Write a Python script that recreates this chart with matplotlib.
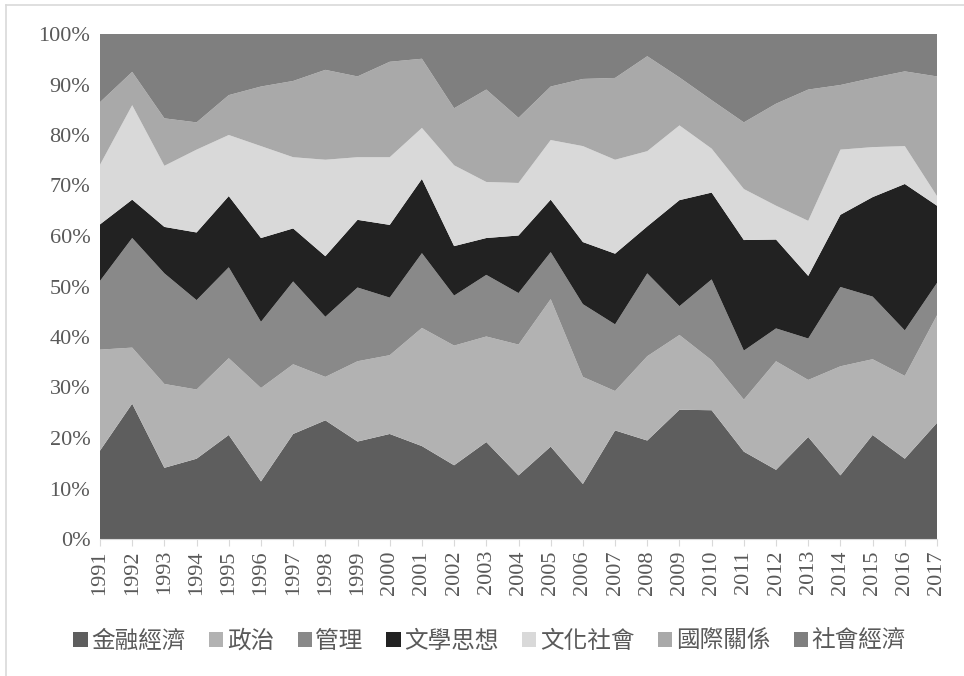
import numpy as np
import matplotlib
matplotlib.use("Agg")
import matplotlib.pyplot as plt
from matplotlib.lines import Line2D

years = list(range(1991, 2018))

# share of each category per year (%)
finance = [17.5, 26.8, 14.1, 15.9, 20.6, 11.4, 20.8, 23.5, 19.3, 20.8, 18.4, 14.6, 19.2, 12.6,
           18.3, 10.9, 21.5, 19.5, 25.6, 25.5, 17.3, 13.7, 20.2, 12.6, 20.6, 15.9, 23.0]
politics = [20.0, 11.1, 16.6, 13.7, 15.2, 18.5, 13.8, 8.6, 15.9, 15.6, 23.4, 23.7, 20.9, 25.9,
            29.2, 21.2, 7.8, 16.7, 14.8, 9.9, 10.3, 21.5, 11.3, 21.6, 15.0, 16.4, 21.3]
management = [13.6, 21.7, 21.9, 17.7, 18.0, 13.1, 16.4, 11.9, 14.6, 11.4, 14.8, 9.9, 12.2, 10.2,
              9.3, 14.4, 13.2, 16.4, 5.7, 16.0, 9.7, 6.5, 8.2, 15.7, 12.4, 9.0, 6.4]
literature = [11.2, 7.6, 9.2, 13.4, 14.1, 16.6, 10.5, 12.0, 13.4, 14.4, 14.7, 9.8, 7.3, 11.4,
              10.4, 12.3, 14.0, 9.3, 21.0, 17.2, 21.9, 17.6, 12.4, 14.3, 19.7, 29.0, 15.3]
culture = [11.8, 18.7, 12.1, 16.4, 12.1, 18.2, 14.1, 19.1, 12.4, 13.4, 10.1, 16.0, 11.1, 10.4,
           11.8, 19.0, 18.6, 14.9, 14.8, 8.7, 10.1, 6.7, 10.9, 12.9, 9.9, 7.5, 1.9]
intl = [12.4, 6.6, 9.4, 5.4, 7.9, 11.8, 15.1, 17.8, 16.0, 18.9, 13.7, 11.3, 18.3, 12.9,
        10.6, 13.3, 16.2, 18.8, 9.5, 9.6, 13.2, 20.2, 26.0, 12.8, 13.7, 14.8, 23.7]
socioecon = [13.5, 7.5, 16.7, 17.5, 12.1, 10.4, 9.3, 7.1, 8.4, 5.5, 4.9, 14.7, 11.0, 16.6,
             10.4, 8.9, 8.7, 4.4, 8.6, 13.1, 17.5, 13.8, 11.0, 10.1, 8.7, 7.4, 8.4]

labels = ['金融經濟', '政治', '管理', '文學思想', '文化社會', '國際關係', '社會經濟']
colors = ['#5e5e5e', '#b2b2b2', '#898989', '#222222', '#d9d9d9', '#a9a9a9', '#7f7f7f']

series = np.array([finance, politics, management, literature, culture, intl, socioecon])
series = series / series.sum(axis=0) * 100

fig = plt.figure(figsize=(9.64, 6.76), dpi=100)
ax = fig.add_axes([100 / 964, 1 - 539 / 676, 837 / 964, 505 / 676])

x = np.arange(len(years))
ax.stackplot(x, series, colors=colors, labels=labels, linewidth=0)

ax.set_xlim(0, len(years) - 1)
ax.set_ylim(0, 100)
ax.set_yticks(range(0, 101, 10))
ax.set_yticklabels([f'{v}%' for v in range(0, 101, 10)],
                   fontfamily='Liberation Serif', fontsize=16, color='#595959')
ax.set_xticks(x)
ax.set_xticklabels([str(y) for y in years], rotation=90,
                   fontfamily='Liberation Serif', fontsize=16, color='#595959')
ax.tick_params(axis='y', length=0, pad=7)
ax.tick_params(axis='x', length=5, color='#d9d9d9', pad=3)
for side in ['top', 'right', 'left']:
    ax.spines[side].set_visible(False)
ax.spines['bottom'].set_color('#d9d9d9')

handles, lbls = ax.get_legend_handles_labels()
leg = fig.legend(handles, lbls, loc='center', bbox_to_anchor=(0.508, 1 - 641 / 676), ncol=7,
                 frameon=False, handlelength=0.6, handleheight=0.6, handletextpad=0.15,
                 columnspacing=1.0, prop={'family': ['Noto Sans CJK TC', 'DejaVu Sans'],
                                          'size': 17, 'weight': 'light'})
for t in leg.get_texts():
    t.set_color('#595959')

# outer chart border (only top and left edges are inside the picture)
fig.lines.append(Line2D([6 / 964, 1], [1 - 5 / 676, 1 - 5 / 676], transform=fig.transFigure,
                        color='#d9d9d9', linewidth=1.2))
fig.lines.append(Line2D([6 / 964, 6 / 964], [0, 1 - 5 / 676], transform=fig.transFigure,
                        color='#d9d9d9', linewidth=1.2))

fig.savefig('out.png', dpi=100)
